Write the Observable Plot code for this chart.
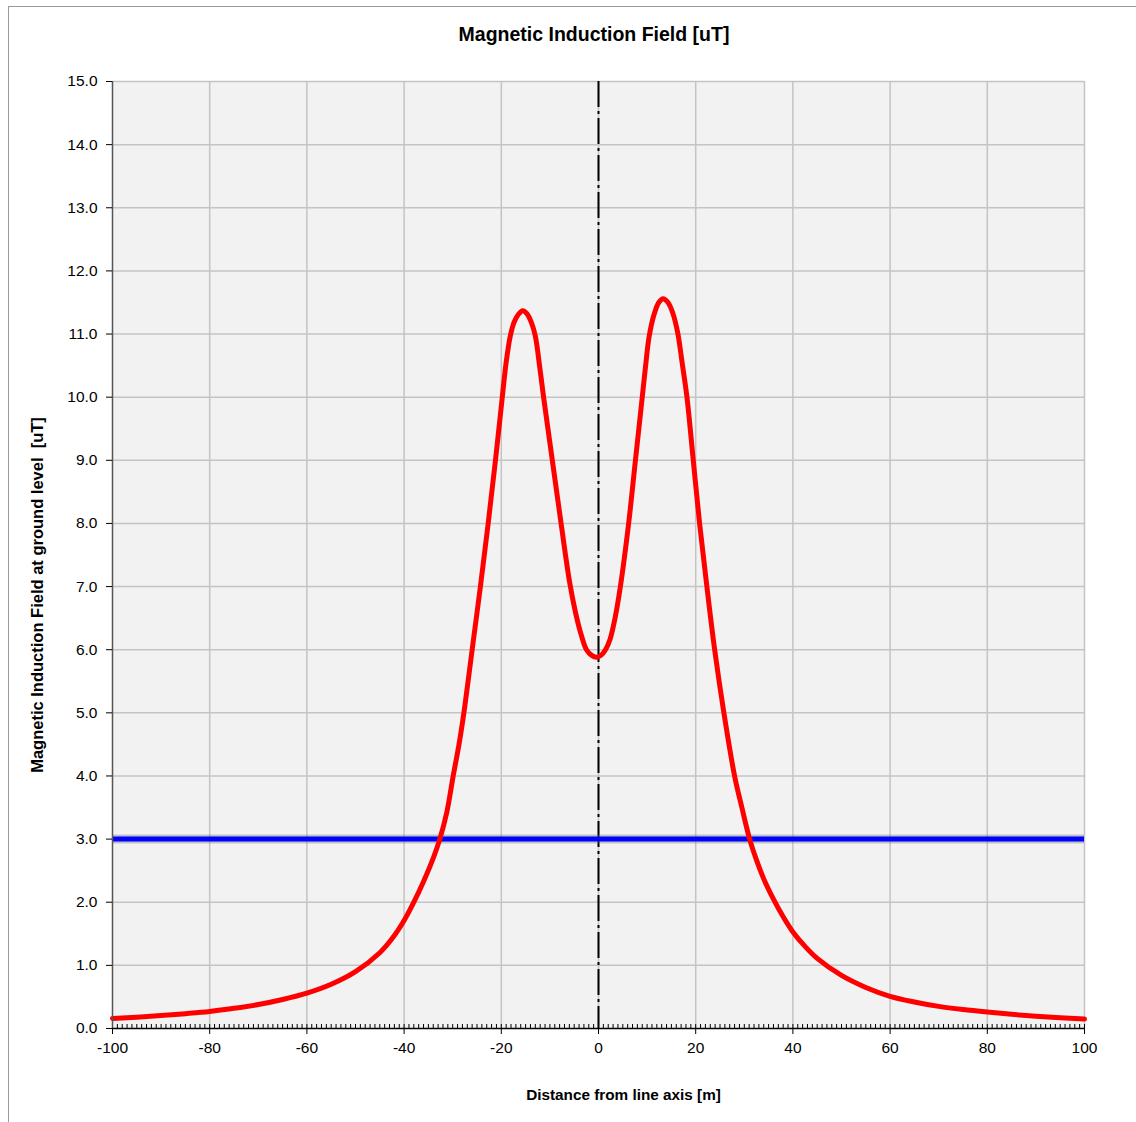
<!DOCTYPE html>
<html>
<head>
<meta charset="utf-8">
<script src="https://cdn.jsdelivr.net/npm/d3@7"></script>
<script src="https://cdn.jsdelivr.net/npm/@observablehq/plot@0.6"></script>
<style>
  html, body { margin: 0; padding: 0; background: #fff; overflow: hidden; }
  #wrap { position: relative; width: 1136px; height: 1122px; }
  #border { position: absolute; left: 8px; top: 6px; width: 1300px; height: 1300px; border: 1px solid #9a9a9a; box-sizing: border-box; }
  #chart { position: absolute; left: 0; top: 0; }
  svg { font-family: "Liberation Sans", Arial, sans-serif; }
</style>
</head>
<body>
<div id="wrap"><div id="border"></div><div id="chart"></div></div>
<script>
const titleText = "Magnetic Induction Field [uT]";
const xLabel = "Distance from line axis [m]";
const yLabel = "Magnetic Induction Field at ground level  [uT]";

// Distance from line axis [m]
const distance = [
  -100, -95, -90, -85, -80, -75, -70, -65, -60, -55, -50, -45, -42.5, -40, -38, -36, -34,
  -32.65, -31.2, -29.9, -28.7, -27.7, -26.8, -26.0, -24.3, -22.7, -21.2, -19.8, -19.0, -18.2,
  -17.4, -16.5, -15.6, -14.7, -13.8, -13.0, -12.1, -11.3, -9.5, -7.7, -5.9, -4.7, -3.5, -2.47,
  -1.4, -0.4, 0.5, 1.44, 2.4, 3.4, 4.5, 6.2, 7.6, 9.0, 9.7, 10.4, 11.4, 12.4, 13.3, 14.3, 15.3,
  16.3, 17.2, 18.2, 19.5, 20.8, 22.3, 23.9, 25.8, 28.0, 29.5, 31.1, 32.5, 34, 36, 38, 40, 42.5,
  45, 50, 55, 60, 65, 70, 75, 80, 85, 90, 95, 100
];
// Magnetic induction field at ground level [uT]
const field = [
  0.16, 0.18, 0.205, 0.235, 0.27, 0.32, 0.38, 0.46, 0.56, 0.70, 0.90, 1.20, 1.42, 1.71, 2.00, 2.33, 2.70,
  3.00, 3.43, 4.00, 4.50, 5.00, 5.52, 6.00, 7.00, 8.00, 9.00, 10.00, 10.55, 10.95,
  11.18, 11.31, 11.37, 11.32, 11.18, 10.97, 10.48, 10.00, 9.00, 8.00, 7.05, 6.58, 6.22, 6.00,
  5.91, 5.88, 5.91, 6.00, 6.17, 6.50, 7.00, 8.00, 9.00, 10.00, 10.50, 10.95, 11.30, 11.50, 11.56, 11.50, 11.33,
  11.02, 10.55, 10.00, 9.00, 8.00, 7.00, 6.00, 5.00, 4.00, 3.50, 3.00, 2.67, 2.37, 2.05, 1.77, 1.53, 1.30,
  1.11, 0.84, 0.65, 0.51, 0.42, 0.35, 0.30, 0.26, 0.225, 0.195, 0.17, 0.15
];
// Reference limit [uT]
const limit = [3.0];
// Line axis position [m]
const axisPos = [0];

const xMajor = d3.range(-100, 101, 20);
const xMinor = d3.range(-100, 101, 1);
const yMajor = d3.range(0, 15.0001, 1);

const W = 1136, H = 1122;
const mL = 112, mR = 52, mT = 81, mB = 94;
const plotH = H - mT - mB;

const data = distance.map((d, i) => ({d, v: field[i]}));

const chart = Plot.plot({
  width: W,
  height: H,
  marginLeft: mL,
  marginRight: mR,
  marginTop: mT,
  marginBottom: mB,
  style: {fontFamily: "'Liberation Sans', Arial, sans-serif", fontSize: "15px", color: "#000", background: "transparent"},
  x: {domain: [-100, 100], ticks: xMajor, label: null},
  y: {domain: [0, 15], ticks: yMajor, label: null},
  marks: [
    Plot.frame({fill: "#f2f2f2", stroke: null}),
    Plot.gridX(xMajor.filter(d => d > -100), {stroke: "#c4c4c4", strokeOpacity: 1, strokeWidth: 1.5}),
    Plot.gridY(yMajor.filter(d => d > 0), {stroke: "#c4c4c4", strokeOpacity: 1, strokeWidth: 1.5}),
    Plot.ruleX(axisPos, {stroke: "#000", strokeWidth: 2, strokeDasharray: "26,4,3,4"}),
    Plot.ruleY(limit, {stroke: "#666", strokeOpacity: 0.35, strokeWidth: 9}),
    Plot.ruleY(limit, {stroke: "#0000ff", strokeWidth: 5}),
    Plot.line(data, {x: "d", y: "v", stroke: "#ff0000", strokeWidth: 5, curve: "catmull-rom"}),
    Plot.tickX(xMinor, {x: d => d, stroke: "#000", strokeWidth: 1, insetTop: plotH - 4}),
    Plot.ruleX([-100], {stroke: "#555", strokeWidth: 1.5}),
    Plot.ruleY([0], {stroke: "#000", strokeWidth: 1.5}),
    Plot.axisX({ticks: xMajor, tickSize: 6, tickPadding: 7, tickFormat: d => String(d), label: null, fontSize: 15.5, stroke: "#000"}),
    Plot.axisY({ticks: yMajor, tickSize: 6, tickPadding: 9, tickFormat: d3.format(".1f"), label: null, fontSize: 15.5, stroke: "#000"}),
    Plot.text([titleText], {text: d => d, frameAnchor: "top", dx: -4.5, dy: -47, lineAnchor: "middle", fontSize: 19.5, fontWeight: "bold", fill: "#000"}),
    Plot.text([xLabel], {text: d => d, frameAnchor: "bottom", dx: 25, dy: 67, lineAnchor: "middle", fontSize: 15.3, fontWeight: "bold", fill: "#000"}),
    Plot.text([yLabel], {text: d => d, frameAnchor: "left", textAnchor: "middle", rotate: -90, dx: -75, dy: 40, lineAnchor: "middle", fontSize: 16.5, fontWeight: "bold", fill: "#000"})
  ]
});
document.getElementById("chart").appendChild(chart);
</script>
</body>
</html>
